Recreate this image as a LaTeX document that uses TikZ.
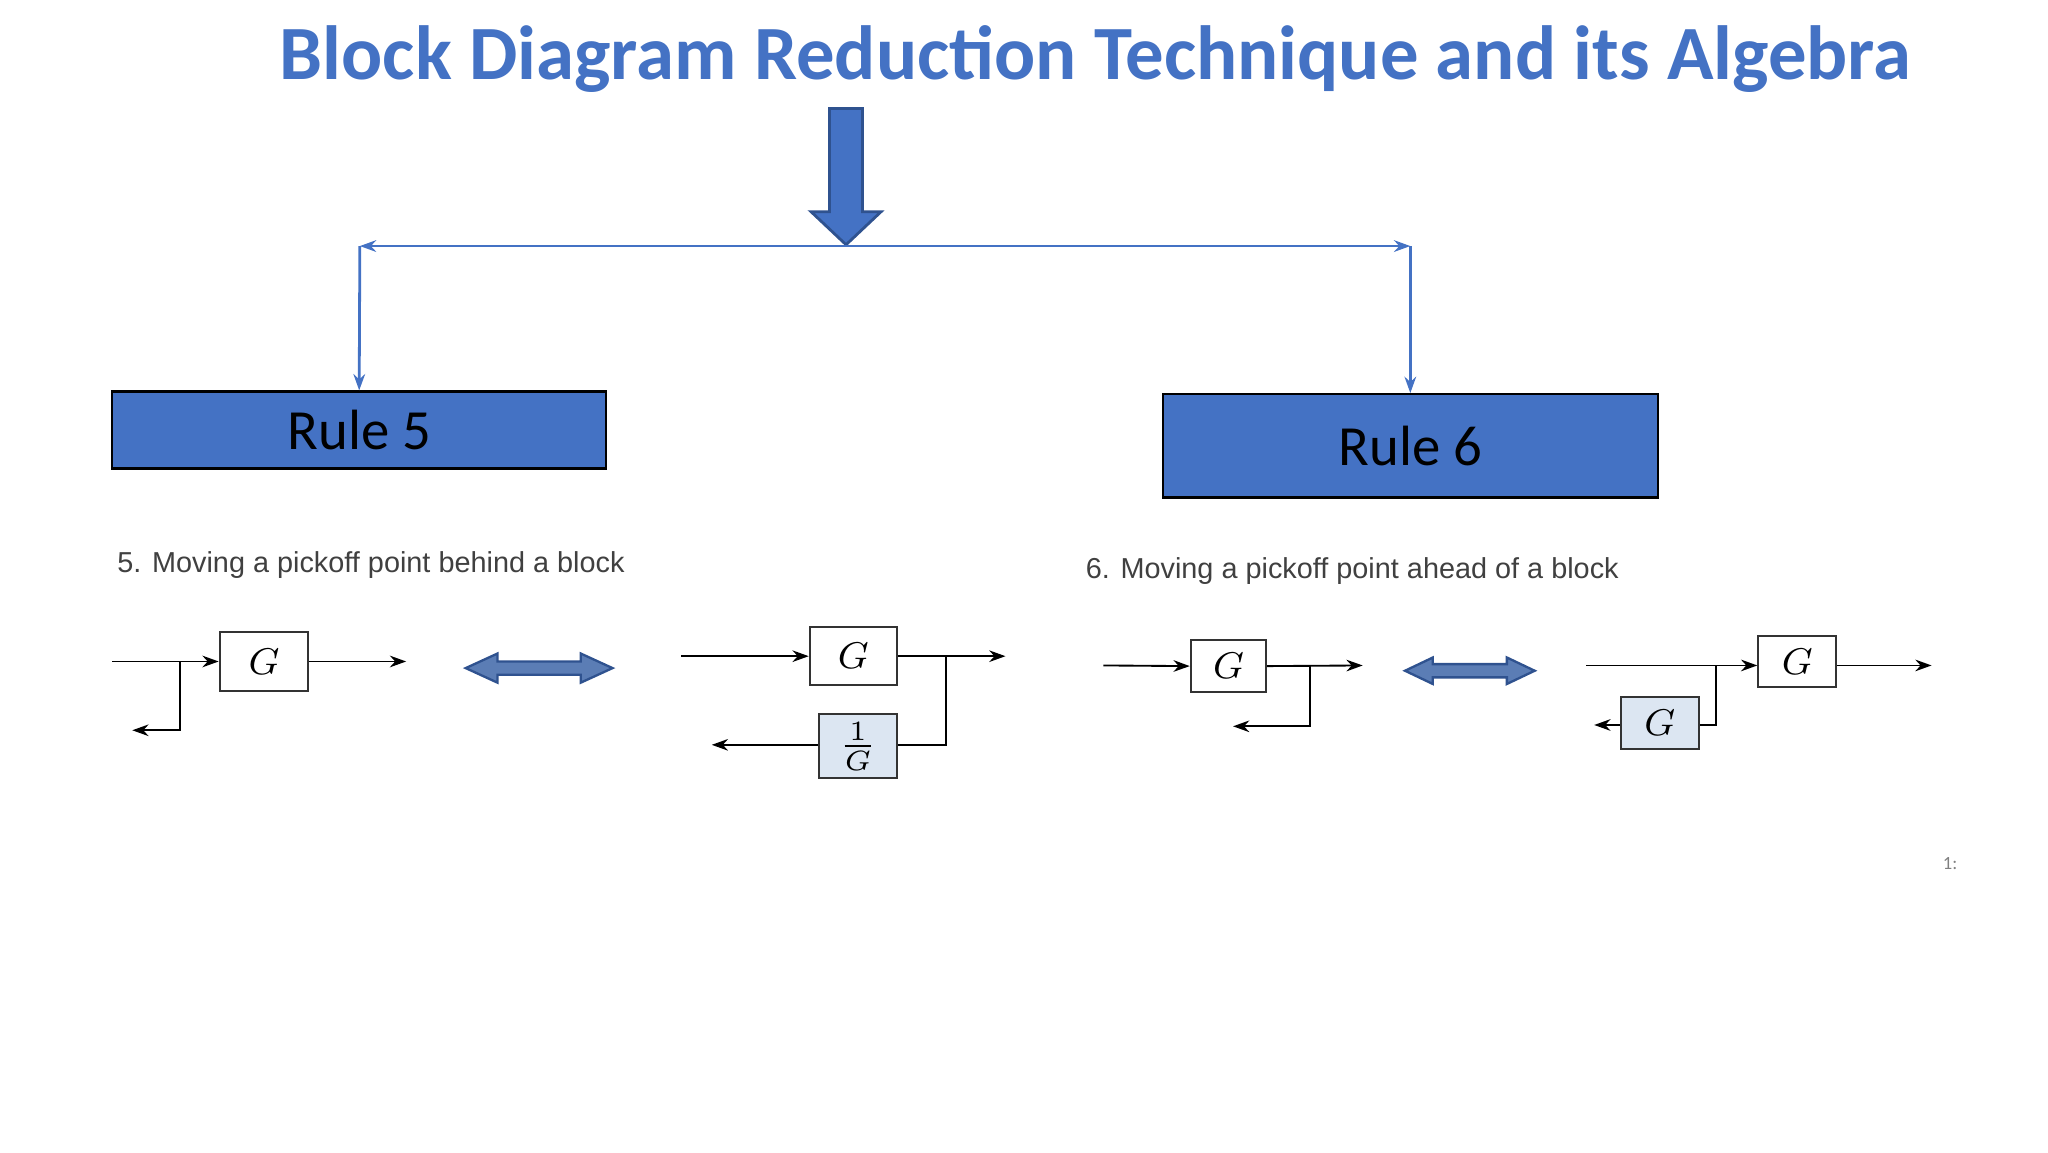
\documentclass[tikz,border=0pt]{standalone}
\usepackage{fontspec}
\setmainfont{Carlito}
\newfontfamily\arialf{Liberation Sans}
\usetikzlibrary{arrows.meta}
\definecolor{tblue}{HTML}{4472C4}
\definecolor{dblue}{HTML}{2F528F}
\definecolor{lb}{HTML}{DCE6F2}
\definecolor{darr}{HTML}{5B7DB5}
\begin{document}
\begin{tikzpicture}[x=0.01cm,y=-0.01cm,
 blk/.style={draw=black!80,line width=0.4pt,minimum width=#1,inner sep=0pt,font=\fontsize{8.5}{9}\selectfont},
 sig/.style={line width=0.4pt,-{Stealth[length=3.5pt,width=2.5pt]}},
 ln/.style={line width=0.4pt},
 rule/.style={draw=black,fill=tblue,line width=0.5pt,font=\fontsize{12.2}{13}\selectfont,text=black,inner sep=0pt},
 conn/.style={draw=tblue,line width=0.6pt,-{Stealth[length=3.5pt,width=2.5pt]}},
 dblarr/.style={draw=dblue,fill=darr,line width=0.5pt},
 captxt/.style={text=black!75,font=\arialf\fontsize{6.2}{7}\selectfont,anchor=west,inner sep=0pt}]
\useasboundingbox (0,0) rectangle (1548,871);
\node[text=tblue,font=\bfseries\fontsize{16.5}{17}\selectfont] (title) at (828,45) {Block Diagram Reduction Technique and its Algebra};
\draw[draw=dblue,fill=tblue,line width=0.6pt] (627,82) -- (652,82) -- (652,160) -- (666,160) -- (639.5,185) -- (613,160) -- (627,160) -- cycle;
\coordinate (hl) at (272,186); \coordinate (hr) at (1066,186); \coordinate (hm) at (639,186);
\draw[conn] (hm) -- (hl); \draw[conn] (hm) -- (hr);
\node[rule,minimum width=3.73cm,minimum height=0.58cm] (r5) at (271.5,325) {Rule 5};
\node[rule,minimum width=3.74cm,minimum height=0.78cm] (r6) at (1066,337) {Rule 6};
\draw[conn] (hl) -- (r5.north); \draw[conn] (hr) -- (r6.north);
\node[captxt] (c5) at (88,427) {5. Moving a pickoff point behind a block};
\node[captxt] (c6) at (820,432) {6. Moving a pickoff point ahead of a block};
% diagram 1
\node[blk=0.67cm,minimum height=0.44cm] (g1) at (199.5,500) {$G$};
\coordinate (a1) at (85,500); \coordinate (o1) at (307,500); \coordinate (p1) at (136,500); \coordinate (q1) at (136,552); \coordinate (e1) at (100,552);
\draw[sig] (a1) -- (g1.west); \draw[sig] (g1.east) -- (o1); \draw[sig] (p1) -- (q1) -- (e1);
\draw[dblarr] (352,505) -- (376,494) -- (376,500) -- (439,500) -- (439,494) -- (463,505) -- (439,516) -- (439,510) -- (376,510) -- (376,516) -- cycle;
% diagram 2
\node[blk=0.66cm,minimum height=0.44cm] (g2) at (645,496) {$G$};
\node[blk=0.59cm,minimum height=0.48cm,fill=lb] (g2b) at (648.5,564) {$\frac{1}{G}$};
\coordinate (a2) at (515,496); \coordinate (o2) at (760,496); \coordinate (p2) at (715,496); \coordinate (q2) at (715,563); \coordinate (e2) at (538,563);
\draw[sig] (a2) -- (g2.west); \draw[sig] (g2.east) -- (o2); \draw[ln] (p2) -- (q2) -- (g2b.east |- q2); \draw[sig] (g2b.west |- e2) -- (e2);
% diagram 3
\node[blk=0.57cm,minimum height=0.39cm] (g3) at (928.5,503.5) {$G$};
\coordinate (a3) at (834,503); \coordinate (o3) at (1030,503); \coordinate (p3) at (990,503); \coordinate (q3) at (990,549); \coordinate (e3) at (932,549);
\draw[sig] (a3) -- (g3.west); \draw[sig] (g3.east) -- (o3); \draw[sig] (p3) -- (q3) -- (e3);
\draw[dblarr] (1062,507) -- (1083,497) -- (1083,502) -- (1139,502) -- (1139,497) -- (1160,507) -- (1139,517) -- (1139,512) -- (1083,512) -- (1083,517) -- cycle;
% diagram 4
\node[blk=0.59cm,minimum height=0.38cm] (g4) at (1358.5,500) {$G$};
\node[blk=0.59cm,minimum height=0.39cm,fill=lb] (g4b) at (1254.5,546.5) {$G$};
\coordinate (a4) at (1199,503); \coordinate (o4) at (1460,503); \coordinate (p4) at (1297,503); \coordinate (q4) at (1297,548); \coordinate (e4) at (1205,548);
\draw[sig] (a4) -- (g4.west |- a4); \draw[sig] (g4.east |- o4) -- (o4); \draw[ln] (p4) -- (q4) -- (g4b.east |- q4); \draw[sig] (g4b.west |- e4) -- (e4);
\node[text=black!50,font=\fontsize{4}{4}\selectfont,inner sep=0pt] (pg) at (1474,653) {1:};
\end{tikzpicture}
\end{document}
